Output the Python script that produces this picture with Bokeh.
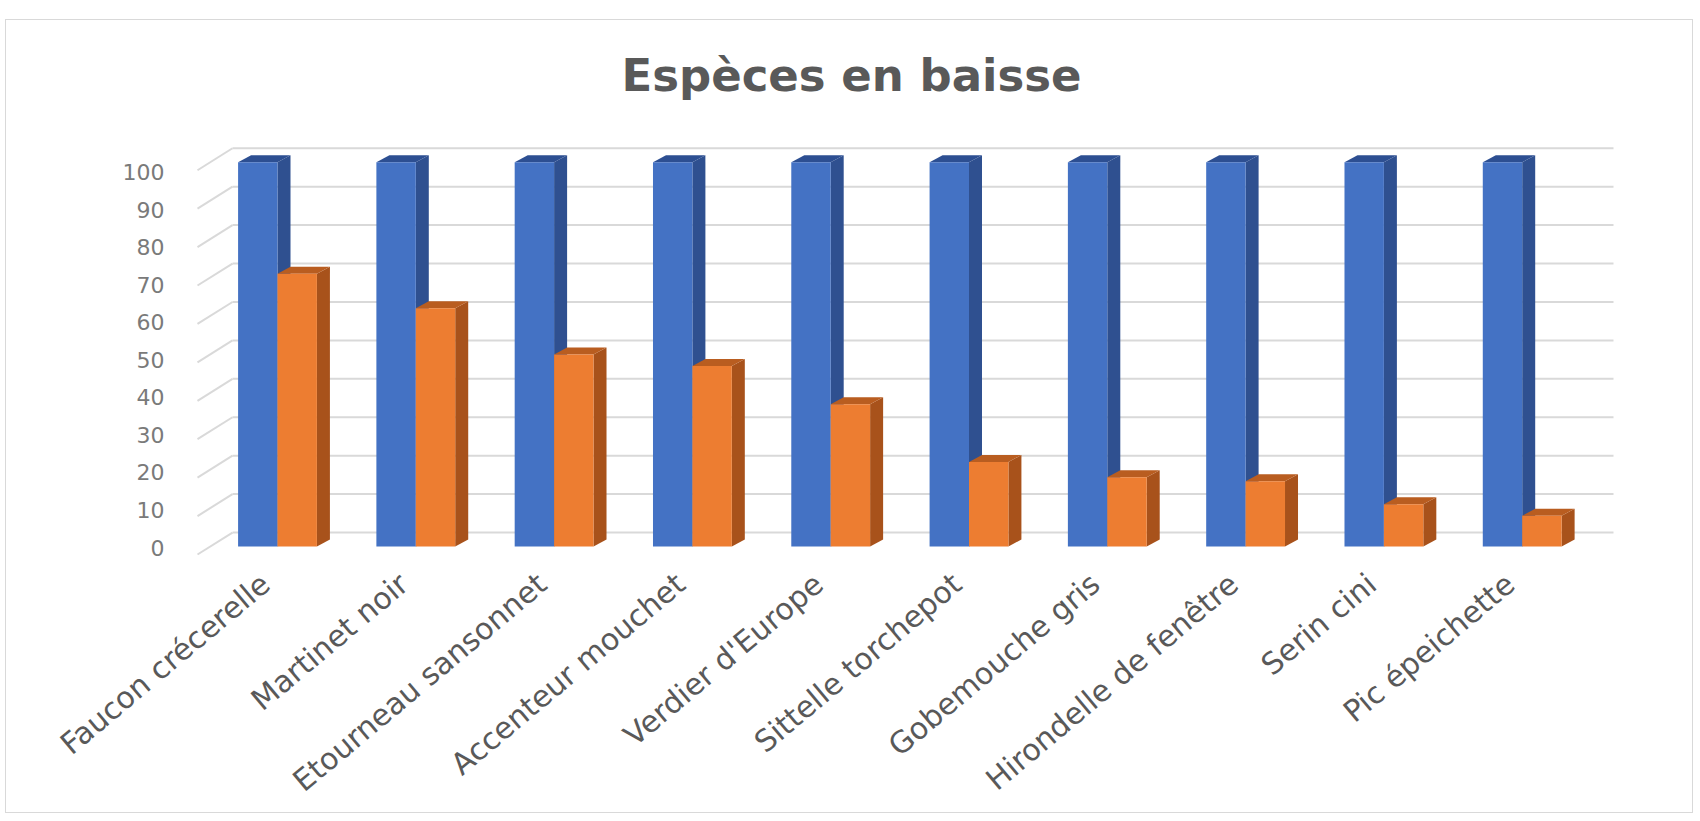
import math
from bokeh.plotting import figure
from bokeh.models import Range1d, LinearAxis, FixedTicker, Label
from bokeh.embed import file_html
from bokeh.resources import INLINE

# ---------------- data ----------------
categories = ["Faucon crécerelle", "Martinet noir", "Etourneau sansonnet",
              "Accenteur mouchet", "Verdier d'Europe", "Sittelle torchepot",
              "Gobemouche gris", "Hirondelle de fenêtre", "Serin cini",
              "Pic épeichette"]
series_blue = [100, 100, 100, 100, 100, 100, 100, 100, 100, 100]
series_orange = [71, 62, 50, 47, 37, 22, 18, 17, 11, 8]
y_ticks = [0, 10, 20, 30, 40, 50, 60, 70, 80, 90, 100]
title_text = "Espèces en baisse"

# ---------------- layout (pixels) ----------------
W, H = 1688, 794
PAGE_X, PAGE_Y = 6, 20          # page position of the canvas (margin + border)
ML, MR, MT, MB = 174, 4, 2, 258
frame_w = W - ML - MR
frame_h = H - MT - MB
FRAME_L = PAGE_X + ML
FRAME_T = PAGE_Y + MT
PX_CAT = 138.3          # px per category
CAT0 = 277              # page x of first category centre
PX_UNIT = 3.85          # px per value unit (front plane)
ZERO = 547              # page y of value 0 (front plane)
LBL_ZERO, LBL_PX = 548, 3.76
XLBL_SHIFT = 12         # px the rotated category labels sit left of the bars

def dx(px):
    return (px - CAT0) / PX_CAT

def dy(py):
    return (ZERO - py) / PX_UNIT

x0 = dx(FRAME_L)
x1 = dx(FRAME_L + frame_w)
y0 = dy(FRAME_T + frame_h)
y1 = dy(FRAME_T)

p = figure(width=W, height=H, output_backend="svg", toolbar_location=None,
           x_range=Range1d(x0, x1), y_range=Range1d(y0, y1),
           y_axis_location=None, x_axis_location=None,
           min_border_left=ML, min_border_right=MR,
           min_border_top=MT, min_border_bottom=MB)
p.outline_line_color = None
p.xgrid.visible = False
p.ygrid.visible = False
p.background_fill_color = "white"
p.border_fill_color = "white"
p.styles = {"border": "1px solid #d9d9d9", "margin-left": "5px", "margin-top": "19px"}

# label scale for the y axis (perspective front edge)
p.extra_y_ranges = {"lbl": Range1d((LBL_ZERO - (FRAME_T + frame_h)) / LBL_PX,
                                   (LBL_ZERO - FRAME_T) / LBL_PX)}
yax = LinearAxis(y_range_name="lbl", ticker=FixedTicker(ticks=y_ticks))
yax.axis_line_color = None
yax.major_tick_line_color = None
yax.minor_tick_line_color = None
yax.major_label_standoff = 10
yax.major_label_text_font = "DejaVu Sans"
yax.major_label_text_font_size = "22px"
yax.major_label_text_color = "#7a7a7a"
p.add_layout(yax, "left")

# category axis (slightly shifted scale for the rotated labels)
sh = XLBL_SHIFT / PX_CAT
p.extra_x_ranges = {"lblx": Range1d(x0 + sh, x1 + sh)}
xax = LinearAxis(x_range_name="lblx",
                 ticker=FixedTicker(ticks=list(range(len(categories)))))
xax.major_label_overrides = {i: c for i, c in enumerate(categories)}
xax.major_label_orientation = math.radians(40)
xax.axis_line_color = None
xax.major_tick_line_color = None
xax.minor_tick_line_color = None
xax.major_label_standoff = 18
xax.major_label_text_font = "DejaVu Sans"
xax.major_label_text_font_size = "30px"
xax.major_label_text_color = "#595959"
p.add_layout(xax, "below")

# 3D depth (pixels -> data)
DX = 13 / PX_CAT
DY = 7 / PX_UNIT
WALL_DY = 14 / PX_UNIT
WALL_L = dx(232)
WALL_R = dx(1613)
SIDE_FX = dx(197)
SIDE_FDY = -8 / PX_UNIT

# back wall gridlines
p.segment(x0=[WALL_L] * len(y_ticks), x1=[WALL_R] * len(y_ticks),
          y0=[t + WALL_DY for t in y_ticks], y1=[t + WALL_DY for t in y_ticks],
          line_color="#d9d9d9", line_width=2)
# side wall lines
p.segment(x0=[SIDE_FX] * len(y_ticks), x1=[WALL_L] * len(y_ticks),
          y0=[t + SIDE_FDY for t in y_ticks], y1=[t + WALL_DY for t in y_ticks],
          line_color="#d9d9d9", line_width=2)

BW = 0.285
idx = list(range(len(categories)))

def faces(lefts, rights, vals):
    side_xs = [[r, r + DX, r + DX, r] for r in rights]
    side_ys = [[0, DY, v + DY, v] for v in vals]
    top_xs = [[l, l + DX, r + DX, r] for l, r in zip(lefts, rights)]
    top_ys = [[v, v + DY, v + DY, v] for v in vals]
    return side_xs, side_ys, top_xs, top_ys

# blue series
bl = [i - BW for i in idx]
br = [i for i in idx]
sx, sy, tx, ty = faces(bl, br, series_blue)
p.patches(sx, sy, fill_color="#2f5090", line_color=None)
p.patches(tx, ty, fill_color="#2d4f92", line_color=None)
p.quad(left=bl, right=br, bottom=[0] * len(idx), top=series_blue,
       fill_color="#4472c4", line_color=None)

# orange series
ol = [i for i in idx]
orr = [i + BW for i in idx]
sx, sy, tx, ty = faces(ol, orr, series_orange)
p.patches(sx, sy, fill_color="#a8521b", line_color=None)
p.patches(tx, ty, fill_color="#b95d20", line_color=None)
p.quad(left=ol, right=orr, bottom=[0] * len(idx), top=series_orange,
       fill_color="#ed7d31", line_color=None)

# title
p.add_layout(Label(x=dx(851), y=dy(75), text=title_text, text_align="center",
                   text_baseline="middle", text_font="DejaVu Sans",
                   text_font_style="bold", text_font_size="45px",
                   text_color="#595959"))

open("out.html", "w").write(file_html(p, INLINE))
